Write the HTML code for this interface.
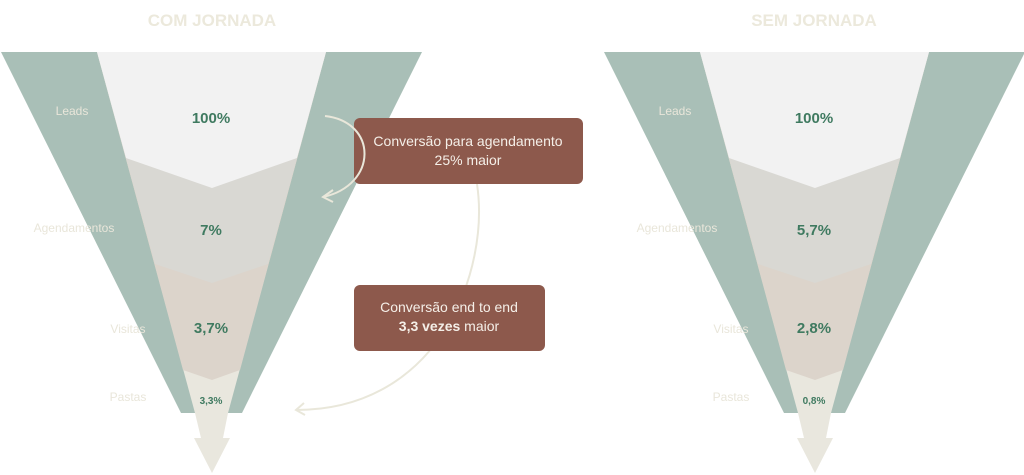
<!DOCTYPE html>
<html><head><meta charset="utf-8"><style>
html,body{margin:0;padding:0;background:#fff;}
svg{display:block;}
text{font-family:"Liberation Sans",sans-serif;}
</style></head><body>
<svg width="1024" height="475" viewBox="0 0 1024 475" xmlns="http://www.w3.org/2000/svg">
<defs>
<g id="funnel">
  <polygon points="1,52 422,52 242,413 181,413" fill="#a9bfb7"/>
  <polygon points="97,52 326,52 228,413 223,438 230,438 212,473 194,438 201,438 195,413" fill="#e9e7de"/>
  <polygon points="97,52 326,52 240,370 212,380 183,370" fill="#dcd4cb"/>
  <polygon points="97,52 326,52 268,264 212,283 155,264" fill="#d9d8d3"/>
  <polygon points="97,52 326,52 297,158 212,188 126,158" fill="#f2f2f2"/>
  <g font-size="12" fill="#e9e6da" text-anchor="middle">
    <text x="72" y="115">Leads</text>
    <text x="74" y="232">Agendamentos</text>
    <text x="128" y="333">Visitas</text>
    <text x="128" y="401">Pastas</text>
  </g>
</g>
</defs>
<text x="212" y="26" text-anchor="middle" font-size="17" font-weight="bold" fill="#ece9dc">COM JORNADA</text>
<text x="814" y="26" text-anchor="middle" font-size="17" font-weight="bold" fill="#ece9dc">SEM JORNADA</text>
<use href="#funnel"/>
<use href="#funnel" transform="translate(603,0)"/>
<g font-weight="bold" fill="#3f7a60" text-anchor="middle">
  <text x="211" y="123" font-size="15">100%</text>
  <text x="211" y="235" font-size="15">7%</text>
  <text x="211" y="333" font-size="15">3,7%</text>
  <text x="211" y="404" font-size="10">3,3%</text>
  <text x="814" y="123" font-size="15">100%</text>
  <text x="814" y="235" font-size="15">5,7%</text>
  <text x="814" y="333" font-size="15">2,8%</text>
  <text x="814" y="404" font-size="10">0,8%</text>
</g>
<g fill="none" stroke="#e9e7da" stroke-width="2">
  <path d="M477,184 C490,270 440,410 296,410"/>
  <path d="M304,403 L296,410 L305,415"/>
</g>
<rect x="354" y="118" width="229" height="66" rx="6" fill="#8d594c"/>
<rect x="354" y="285" width="191" height="66" rx="6" fill="#8d594c"/>
<g fill="none" stroke="#e9e7da" stroke-width="2">
  <path d="M325,116 C378,122 378,185 323,197"/>
  <path d="M333,190 L323,197 L333,202"/>
</g>
<g fill="#f5efe8" font-size="14" text-anchor="middle">
  <text x="468" y="146">Conversão para agendamento</text>
  <text x="468" y="165">25% maior</text>
  <text x="449" y="312">Conversão end to end</text>
  <text x="449" y="331"><tspan font-weight="bold">3,3 vezes</tspan> maior</text>
</g>
</svg>
</body></html>
